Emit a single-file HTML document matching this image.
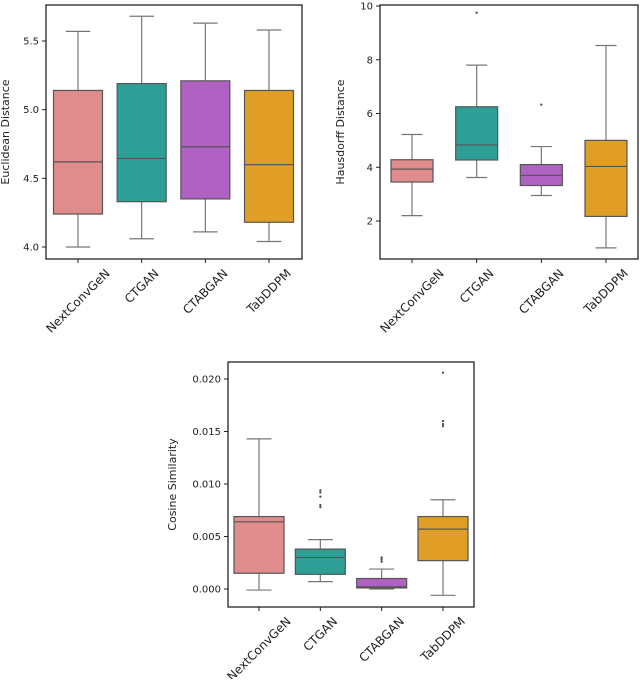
<!DOCTYPE html>
<html><head><meta charset="utf-8"><style>
body{margin:0;background:#fff;width:640px;height:679px;overflow:hidden}
svg{font-family:"DejaVu Sans","Liberation Sans",sans-serif}
</style></head><body>
<svg id="s" width="640" height="679"></svg>
<script>
const categories=["NextConvGeN","CTGAN","CTABGAN","TabDDPM"];
const colors=["#e08b8c","#2e9f96","#b062c2","#e09e26"];
// [low whisker, q1, median, q3, high whisker]
const euclidStats=[[4.0,4.24,4.62,5.14,5.57],[4.06,4.33,4.645,5.19,5.68],[4.11,4.35,4.73,5.21,5.63],[4.04,4.18,4.60,5.14,5.58]];
const euclidOutliers=[[],[],[],[]];
const euclidTicks=[4.0,4.5,5.0,5.5];
const hausStats=[[2.2,3.45,3.93,4.28,5.22],[3.62,4.27,4.83,6.25,7.8],[2.95,3.32,3.7,4.1,4.77],[1.0,2.17,4.03,5.0,8.53]];
const hausOutliers=[[],[9.75],[6.33],[]];
const hausTicks=[2,4,6,8,10];
const cosStats=[[-0.0001,0.0015,0.0064,0.0069,0.0143],[0.0007,0.0014,0.003,0.0038,0.0047],[0.0,0.0001,0.0002,0.001,0.0019],[-0.0006,0.0027,0.0057,0.0069,0.0085]];
const cosOutliers=[[],[0.0078,0.008,0.0088,0.0092,0.0094],[0.0026,0.0028,0.003],[0.0155,0.0157,0.016,0.0206]];
const cosTicks=[0.000,0.005,0.010,0.015,0.020];

const NS="http://www.w3.org/2000/svg";
const svg=document.getElementById('s');
function mk(t,a,p){const e=document.createElementNS(NS,t);for(const k in a)e.setAttribute(k,a[k]);(p||svg).appendChild(e);return e;}

function chart(o){
  const g=mk('g',{});
  
  
  const y=v=>o.y0+(v-o.v0)*(o.y1-o.y0)/(o.v1-o.v0);
  const step=(o.c3-o.c0)/3;
  const x=i=>o.c0+i*step;
  o.stats.forEach((s,i)=>{
    const cx=x(i),w=o.bw;
    const bg=mk('g',{},g);
    
    
    mk('line',{x1:cx,x2:cx,y1:y(s[0]),y2:y(s[1]),stroke:'#777','stroke-width':1.2},bg);
    mk('line',{x1:cx,x2:cx,y1:y(s[3]),y2:y(s[4]),stroke:'#777','stroke-width':1.2},bg);
    mk('line',{x1:cx-w/4,x2:cx+w/4,y1:y(s[0]),y2:y(s[0]),stroke:'#777','stroke-width':1.2},bg);
    mk('line',{x1:cx-w/4,x2:cx+w/4,y1:y(s[4]),y2:y(s[4]),stroke:'#777','stroke-width':1.2},bg);
    mk('rect',{x:cx-w/2,y:y(s[3]),width:w,height:y(s[1])-y(s[3]),fill:colors[i],stroke:'#555','stroke-width':1.2},bg);
    mk('line',{x1:cx-w/2,x2:cx+w/2,y1:y(s[2]),y2:y(s[2]),stroke:'#555','stroke-width':1.2},bg);
    o.out[i].forEach(v=>{mk('circle',{cx:cx,cy:y(v),r:1.1,fill:'#444'},bg);});
    mk('line',{x1:cx,x2:cx,y1:o.bottom,y2:o.bottom+4,stroke:'#222'},g);
    const t=mk('text',{x:0,y:4,'font-size':12,'text-anchor':'middle',fill:'#222'},g);
    t.textContent=categories[i];
    
    
    const L=t.getComputedTextLength();
    const cy=o.bottom+8+(L+12)*0.354;
    t.setAttribute('transform',`translate(${cx},${cy}) rotate(-45)`);
  });
  o.ticks.forEach(v=>{
    mk('line',{x1:o.left-4,x2:o.left,y1:y(v),y2:y(v),stroke:'#222'},g);
    const t=mk('text',{x:o.left-7,y:y(v)+3.5,'font-size':10,'text-anchor':'end',fill:'#222'},g);
    t.textContent=o.fmt(v);
    
    
  });
  mk('rect',{x:o.left,y:o.top,width:o.right-o.left,height:o.bottom-o.top,fill:'none',stroke:'#222','stroke-width':1.3},g);
  const yl=mk('text',{x:0,y:0,'font-size':11,'text-anchor':'middle',fill:'#222',transform:`translate(${o.ylx},${(o.top+o.bottom)/2}) rotate(-90)`},g);
  yl.textContent=o.ylabel;
  
  
}
chart({name:'euclidean-chart',stats:euclidStats,out:euclidOutliers,ticks:euclidTicks,fmt:v=>v.toFixed(1),
  left:46,right:302,top:5,bottom:259,v0:5.5,y0:41,v1:4.0,y1:247,c0:78,c3:269,bw:49,ylabel:'Euclidean Distance',ylx:9});
chart({name:'hausdorff-chart',stats:hausStats,out:hausOutliers,ticks:hausTicks,fmt:v=>String(v),
  left:380,right:638,top:5,bottom:259,v0:10,y0:6,v1:2,y1:221,c0:412,c3:606,bw:42,ylabel:'Hausdorff Distance',ylx:344});
chart({name:'cosine-chart',stats:cosStats,out:cosOutliers,ticks:cosTicks,fmt:v=>v.toFixed(3),
  left:228,right:474,top:362,bottom:607,v0:0.02,y0:379,v1:0,y1:589,c0:259,c3:443,bw:50,ylabel:'Cosine Similarity',ylx:176});
</script>
</body></html>
